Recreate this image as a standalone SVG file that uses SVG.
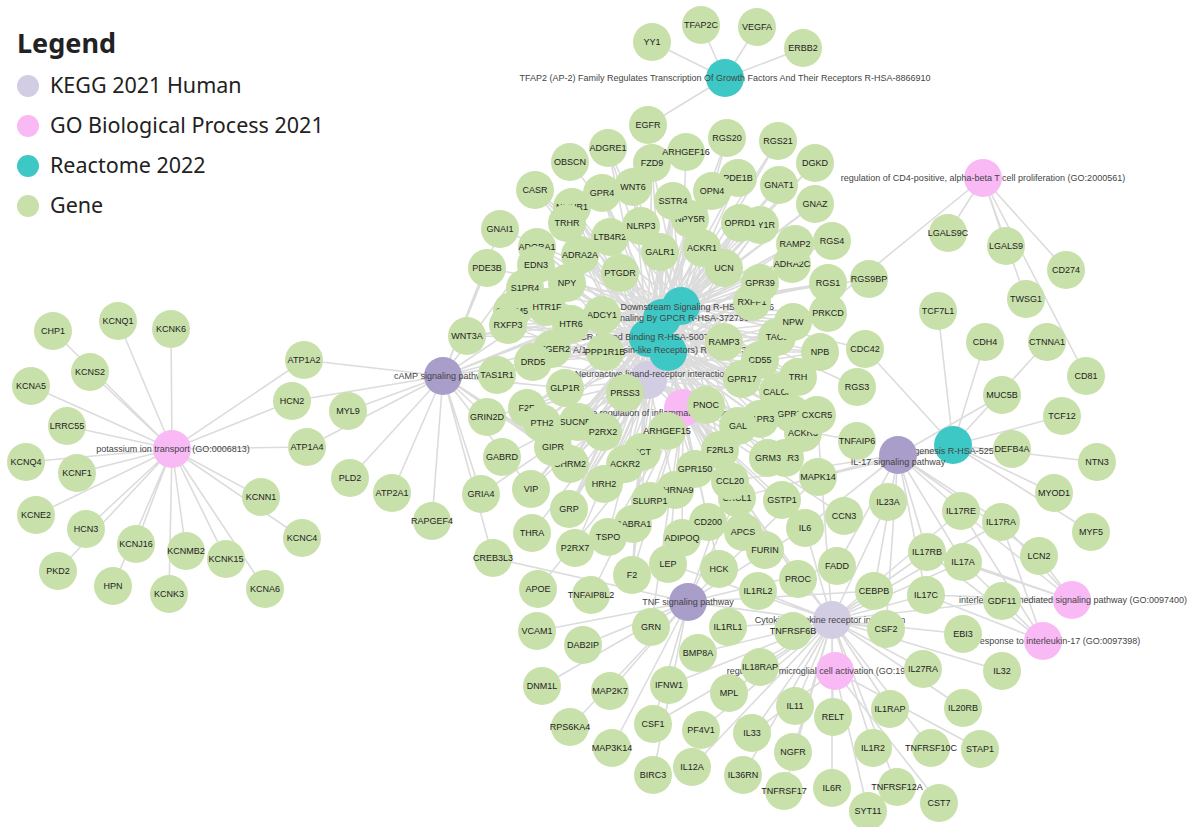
<svg xmlns="http://www.w3.org/2000/svg" width="1190" height="827" viewBox="0 0 1190 827">
<style>
.e{fill:none;stroke:#dcdcdc;stroke-width:1.6}
.g circle{fill:#c8e0aa}
.g text{font-family:"Liberation Sans",Arial,sans-serif;font-size:9px;fill:#222;text-anchor:middle}
.tl text,text.tl{font-family:"Liberation Sans",Arial,sans-serif;font-size:9px;fill:#444;text-anchor:middle}
.kd{fill:#a99dc9}.kl{fill:#d2cde3}.go{fill:#f9b9f5}.re{fill:#3ec8c5}
.lg text{font-family:"Noto Sans","Open Sans",sans-serif;font-size:21.5px;fill:#222}
</style>
<rect width="1190" height="827" fill="#ffffff"/>
<g id="legend" class="lg">
<text x="17" y="53" style="font-size:27px;font-weight:bold">Legend</text>
<circle cx="28" cy="86" r="11" class="kl"/><text x="50" y="93">KEGG 2021 Human</text>
<circle cx="28" cy="126" r="11" class="go"/><text x="50" y="133">GO Biological Process 2021</text>
<circle cx="28" cy="166" r="11" class="re"/><text x="50" y="173">Reactome 2022</text>
<circle cx="28" cy="206" r="11" fill="#c8e0aa"/><text x="50" y="213">Gene</text>
</g>
<g id="connectors">
<path id="e-K" class="e" d="M172 449L53 331M172 449L118 321M172 449L171 329M172 449L90 372M172 449L31 386M172 449L67 426M172 449L26 462M172 449L77 473M172 449L36 515M172 449L86 529M172 449L58 571M172 449L136 544M172 449L113 586M172 449L186 551M172 449L169 594M172 449L226 559M172 449L265 589M172 449L261 497M172 449L302 538M172 449L304 360M172 449L292 401M172 449L307 447"/>
<path id="e-cAMP" class="e" d="M443 376L304 360M443 376L292 401M443 376L348 411M443 376L307 447M443 376L350 478M443 376L392 493M443 376L432 521M443 376L481 494M443 376L487 417M443 376L493 558M443 376L487 268M443 376L537 247M443 376L547 307M443 376L571 324M443 376L602 315M443 376L552 349M443 376L605 352M443 376L533 362M443 376L565 388M443 376L553 447M443 376L570 464M443 376L604 484M443 376L531 489M443 376L500 229"/>
<path id="e-N" class="e" d="M648 380L572 207M648 380L567 223M648 380L673 201M648 380L690 219M648 380L740 223M648 380L760 225M648 380L660 252M648 380L724 268M648 380L792 264M648 380L752 302M648 380L793 322M648 380L777 337M648 380L820 352M648 380L798 377M648 380L778 392M648 380L537 247M648 380L580 255M648 380L567 283M648 380L525 288M648 380L620 273M648 380L547 307M648 380L512 311M648 380L508 325M648 380L571 324M648 380L552 349M648 380L533 362M648 380L565 388M648 380L625 393M648 380L487 417M648 380L527 408M648 380L542 423M648 380L603 432M648 380L502 457M648 380L553 447M648 380L570 464M648 380L604 484M648 380L531 489M648 380L706 405M648 380L738 426M648 380L760 419M648 380L720 450M648 380L642 452M648 380L675 490M648 380L569 509M648 380L532 533M648 380L633 524M648 380L575 548M648 380L481 494M648 380L632 575M648 380L768 458M648 380L785 458M648 380L608 537"/>
<path id="e-R1" class="e" d="M681 306L570 162M681 306L500 229M681 306L686 152M681 306L727 138M681 306L778 141M681 306L815 163M681 306L738 178M681 306L779 185M681 306L815 204M681 306L832 241M681 306L828 283M681 306L869 279M681 306L828 313M681 306L865 349M681 306L857 387M681 306L487 268M681 306L602 315M681 306L667 431M681 306L652 163M681 306L633 187M681 306L535 190M681 306L608 148M681 306L567 283M681 306L740 223M681 306L673 201M681 306L798 377M681 306L817 415M681 306L730 481M681 306L569 509M681 306L570 464M681 306L604 484M681 306L531 489M681 306L565 388M681 306L467 336M681 306L795 244M681 306L724 342M681 306L793 322M681 306L738 426"/>
<path id="e-R2" class="e" d="M662 318L608 148M662 318L535 190M662 318L602 193M662 318L633 187M662 318L572 207M662 318L567 223M662 318L610 237M662 318L652 163M662 318L712 191M662 318L673 201M662 318L690 219M662 318L740 223M662 318L760 225M662 318L660 252M662 318L702 248M662 318L724 268M662 318L795 244M662 318L792 264M662 318L760 283M662 318L752 302M662 318L793 322M662 318L724 342M662 318L777 337M662 318L820 352M662 318L760 360M662 318L742 379M662 318L798 377M662 318L778 392M662 318L817 415M662 318L792 414M662 318L803 433M662 318L760 419M662 318L738 426M662 318L706 405M662 318L720 450M662 318L642 452M662 318L695 469M662 318L730 481M662 318L737 498M662 318L569 509M662 318L537 247M662 318L536 265M662 318L580 255M662 318L567 283M662 318L525 288M662 318L620 273M662 318L547 307M662 318L512 311M662 318L508 325M662 318L571 324M662 318L552 349M662 318L533 362M662 318L497 375M662 318L565 388M662 318L527 408M662 318L542 423M662 318L578 422M662 318L553 447M662 318L570 464M662 318L604 484M662 318L531 489M662 318L467 336M662 318L632 575M662 318L727 138M662 318L778 141M662 318L738 178M662 318L779 185M662 318L815 204M662 318L815 163M662 318L832 241M662 318L828 283M662 318L828 313"/>
<path id="e-R3" class="e" d="M648 338L608 148M648 338L535 190M648 338L602 193M648 338L633 187M648 338L572 207M648 338L567 223M648 338L610 237M648 338L652 163M648 338L712 191M648 338L673 201M648 338L690 219M648 338L740 223M648 338L760 225M648 338L660 252M648 338L702 248M648 338L724 268M648 338L795 244M648 338L792 264M648 338L760 283M648 338L752 302M648 338L793 322M648 338L724 342M648 338L777 337M648 338L820 352M648 338L760 360M648 338L742 379M648 338L798 377M648 338L778 392M648 338L817 415M648 338L792 414M648 338L803 433M648 338L785 458M648 338L768 458M648 338L760 419M648 338L738 426M648 338L706 405M648 338L720 450M648 338L642 452M648 338L625 464M648 338L695 469M648 338L730 481M648 338L737 498M648 338L569 509M648 338L537 247M648 338L536 265M648 338L580 255M648 338L567 283M648 338L525 288M648 338L620 273M648 338L547 307M648 338L512 311M648 338L508 325M648 338L571 324M648 338L552 349M648 338L533 362M648 338L497 375M648 338L565 388M648 338L527 408M648 338L542 423M648 338L578 422M648 338L553 447M648 338L570 464M648 338L604 484M648 338L531 489M648 338L467 336M648 338L632 575"/>
<path id="e-R4" class="e" d="M668 352L602 193M668 352L572 207M668 352L567 223M668 352L610 237M668 352L712 191M668 352L673 201M668 352L690 219M668 352L740 223M668 352L760 225M668 352L660 252M668 352L702 248M668 352L792 264M668 352L760 283M668 352L752 302M668 352L793 322M668 352L777 337M668 352L820 352M668 352L742 379M668 352L798 377M668 352L817 415M668 352L792 414M668 352L803 433M668 352L760 419M668 352L738 426M668 352L706 405M668 352L720 450M668 352L625 464M668 352L695 469M668 352L730 481M668 352L737 498M668 352L569 509M668 352L537 247M668 352L536 265M668 352L580 255M668 352L567 283M668 352L525 288M668 352L620 273M668 352L547 307M668 352L512 311M668 352L508 325M668 352L571 324M668 352L552 349M668 352L533 362M668 352L527 408M668 352L578 422M668 352L570 464M668 352L604 484"/>
<path id="e-INF" class="e" d="M683 408L641 226M683 408L702 248M683 408L625 464M683 408L857 441M683 408L782 500M683 408L743 532M683 408L765 550M683 408L682 538M683 408L708 522M683 408L719 569M683 408L668 564M683 408L632 575M683 408L651 627M683 408L591 595M683 408L538 589M683 408L798 579M683 408L844 516M683 408L805 528M683 408L608 537M683 408L675 490M683 408L650 501M683 408L742 379"/>
<path id="e-TNF" class="e" d="M688 602L805 528M688 602L886 629M688 602L730 481M688 602L874 591M688 602L837 566M688 602L818 477M688 602L653 724M688 602L612 748M688 602L610 691M688 602L653 775M688 602L537 631M688 602L493 558M688 602L542 686M688 602L570 727M688 602L583 645M688 602L737 498"/>
<path id="e-CYT" class="e" d="M832 620L805 528M832 620L886 629M832 620L963 634M832 620L1002 671M832 620L923 669M832 620L963 708M832 620L890 709M832 620L873 748M832 620L931 748M832 620L897 787M832 620L832 788M832 620L833 717M832 620L793 752M832 620L784 791M832 620L795 706M832 620L752 733M832 620L743 775M832 620L692 767M832 620L729 693M832 620L669 685M832 620L653 724M832 620L698 653M832 620L760 667M832 620L728 627M832 620L758 591M832 620L793 631M832 620L1002 601M832 620L963 562M832 620L926 595M832 620L1001 522M832 620L927 552M832 620L961 511M832 620L888 502M832 620L730 481M832 620L817 415M832 620L737 498M832 620L701 730M832 620L668 564"/>
<path id="e-MIC" class="e" d="M835 671L939 803M835 671L980 749M835 671L752 733M835 671L868 811"/>
<path id="e-IL17" class="e" d="M898 455L1002 395M898 455L1012 449M898 455L818 477M898 455L805 528M898 455L730 481M898 455L886 629M898 455L874 591M898 455L837 566M898 455L963 562M898 455L926 595M898 455L1001 522M898 455L927 552M898 455L961 511M898 455L1039 556M898 455L737 498"/>
<path id="e-IL17M" class="e" d="M1072 600L963 562M1072 600L926 595M1072 600L1001 522M1072 600L927 552M1072 600L961 511M1072 600L1039 556"/>
<path id="e-IL17R" class="e" d="M1043 641L963 562M1043 641L926 595M1043 641L1001 522M1043 641L927 552M1043 641L961 511"/>
<path id="e-MYO" class="e" d="M953 445L938 311M953 445L985 342M953 445L1047 342M953 445L1062 416M953 445L1097 462M953 445L1054 493M953 445L1091 532M953 445L865 349M953 445L818 477"/>
<path id="e-CD4" class="e" d="M983 178L948 233M983 178L1006 246M983 178L1066 270M983 178L1026 299M983 178L1086 376M983 178L760 360"/>
<path id="e-TF" class="e" d="M725 78L652 42M725 78L701 25M725 78L757 27M725 78L803 48M725 78L648 125"/>
</g>
<g id="terms">
<g id="t-TFAP2"><circle cx="725" cy="78" r="19" class="re"/></g>
<g id="t-CD4"><circle cx="983" cy="178" r="19" class="go"/></g>
<g id="t-K"><circle cx="172" cy="449" r="19" class="go"/></g>
<g id="t-cAMP"><circle cx="443" cy="376" r="19" class="kd"/></g>
<g id="t-NEURO"><circle cx="648" cy="380" r="19" class="kl"/></g>
<g id="t-INF"><circle cx="683" cy="408" r="19" class="go"/></g>
<g id="t-R4"><circle cx="668" cy="352" r="19" class="re"/></g>
<g id="t-R3"><circle cx="648" cy="338" r="19" class="re"/></g>
<g id="t-R2"><circle cx="662" cy="318" r="19" class="re"/></g>
<g id="t-R1"><circle cx="681" cy="306" r="19" class="re"/></g>
<g id="t-MYO"><circle cx="953" cy="445" r="19" class="re"/></g>
<g id="t-IL17M"><circle cx="1072" cy="600" r="19" class="go"/></g>
<g id="t-IL17R"><circle cx="1043" cy="641" r="19" class="go"/></g>
<g id="t-CYT"><circle cx="832" cy="620" r="19" class="kl"/></g>
<g id="t-MIC"><circle cx="835" cy="671" r="19" class="go"/></g>
<g id="t-TNF"><circle cx="688" cy="602" r="19" class="kd"/></g>
</g>
<g id="term-labels" class="tl">
<text x="725" y="81">TFAP2 (AP-2) Family Regulates Transcription Of Growth Factors And Their Receptors R-HSA-8866910</text>
<text x="983" y="181">regulation of CD4-positive, alpha-beta T cell proliferation (GO:2000561)</text>
<text x="173" y="452">potassium ion transport (GO:0006813)</text>
<text x="443" y="379">cAMP signaling pathway</text>
<text x="652" y="377">Neuroactive ligand-receptor interaction</text>
<text x="683" y="416">negative regulation of inflammatory response (GO:0050728)</text>
<text x="683" y="310">GPCR Downstream Signaling R-HSA-388396</text>
<text x="678" y="321">Signaling By GPCR R-HSA-372790</text>
<text x="643" y="340">GPCR Ligand Binding R-HSA-500792</text>
<text x="655" y="353">Class A/1 (Rhodopsin-like Receptors) R-HSA-373076</text>
<text x="953" y="454">Myogenesis R-HSA-525793</text>
<text x="1073" y="603">interleukin-17-mediated signaling pathway (GO:0097400)</text>
<text x="1043" y="644">cellular response to interleukin-17 (GO:0097398)</text>
<text x="830" y="623">Cytokine-cytokine receptor interaction</text>
<text x="830" y="674">regulation of microglial cell activation (GO:1903978)</text>
<text x="688" y="605">TNF signaling pathway</text>
</g>
<g id="t-IL17"><circle cx="898" cy="455" r="19" class="kd"/><text class="tl" x="898" y="465">IL-17 signaling pathway</text></g>
<g id="genes" class="g">
<g id="g-GPR4"><circle cx="602" cy="193" r="19"/><text x="602" y="196">GPR4</text></g>
<g id="g-NMUR1"><circle cx="572" cy="207" r="19"/><text x="572" y="210">NMUR1</text></g>
<g id="g-NPY1R"><circle cx="760" cy="225" r="19"/><text x="760" y="228">NPY1R</text></g>
<g id="g-NPY5R"><circle cx="690" cy="219" r="19"/><text x="690" y="222">NPY5R</text></g>
<g id="g-TAC1"><circle cx="777" cy="337" r="19"/><text x="777" y="340">TAC1</text></g>
<g id="g-RXFP1"><circle cx="752" cy="302" r="19"/><text x="752" y="305">RXFP1</text></g>
<g id="g-CALCA"><circle cx="778" cy="392" r="19"/><text x="778" y="395">CALCA</text></g>
<g id="g-GPR75"><circle cx="792" cy="414" r="19"/><text x="792" y="417">GPR75</text></g>
<g id="g-ACKR3"><circle cx="803" cy="433" r="19"/><text x="803" y="436">ACKR3</text></g>
<g id="g-LPAR3"><circle cx="785" cy="458" r="19"/><text x="785" y="461">LPAR3</text></g>
<g id="g-CHRM5"><circle cx="512" cy="311" r="19"/><text x="512" y="314">CHRM5</text></g>
<g id="g-PTGER2"><circle cx="552" cy="349" r="19"/><text x="552" y="352">PTGER2</text></g>
<g id="g-F2R"><circle cx="527" cy="408" r="19"/><text x="527" y="411">F2R</text></g>
<g id="g-SUCNR1"><circle cx="578" cy="422" r="19"/><text x="578" y="425">SUCNR1</text></g>
<g id="g-CHRM2"><circle cx="570" cy="464" r="19"/><text x="570" y="467">CHRM2</text></g>
<g id="g-SCT"><circle cx="642" cy="452" r="19"/><text x="642" y="455">SCT</text></g>
<g id="g-CHRNA9"><circle cx="675" cy="490" r="19"/><text x="675" y="493">CHRNA9</text></g>
<g id="g-GABRA1"><circle cx="633" cy="524" r="19"/><text x="633" y="527">GABRA1</text></g>
<g id="g-CXCL1"><circle cx="737" cy="498" r="19"/><text x="737" y="501">CXCL1</text></g>
<g id="g-ADORA1"><circle cx="537" cy="247" r="19"/><text x="537" y="250">ADORA1</text></g>
<g id="g-YY1"><circle cx="652" cy="42" r="19"/><text x="652" y="45">YY1</text></g>
<g id="g-TFAP2C"><circle cx="701" cy="25" r="19"/><text x="701" y="28">TFAP2C</text></g>
<g id="g-VEGFA"><circle cx="757" cy="27" r="19"/><text x="757" y="30">VEGFA</text></g>
<g id="g-ERBB2"><circle cx="803" cy="48" r="19"/><text x="803" y="51">ERBB2</text></g>
<g id="g-EGFR"><circle cx="648" cy="125" r="19"/><text x="648" y="128">EGFR</text></g>
<g id="g-OBSCN"><circle cx="570" cy="162" r="19"/><text x="570" y="165">OBSCN</text></g>
<g id="g-ADGRE1"><circle cx="608" cy="148" r="19"/><text x="608" y="151">ADGRE1</text></g>
<g id="g-CASR"><circle cx="535" cy="190" r="19"/><text x="535" y="193">CASR</text></g>
<g id="g-WNT6"><circle cx="633" cy="187" r="19"/><text x="633" y="190">WNT6</text></g>
<g id="g-TRHR"><circle cx="567" cy="223" r="19"/><text x="567" y="226">TRHR</text></g>
<g id="g-GNAI1"><circle cx="500" cy="229" r="19"/><text x="500" y="232">GNAI1</text></g>
<g id="g-LTB4R2"><circle cx="610" cy="237" r="19"/><text x="610" y="240">LTB4R2</text></g>
<g id="g-NLRP3"><circle cx="641" cy="226" r="19"/><text x="641" y="229">NLRP3</text></g>
<g id="g-FZD9"><circle cx="652" cy="163" r="19"/><text x="652" y="166">FZD9</text></g>
<g id="g-ARHGEF16"><circle cx="686" cy="152" r="19"/><text x="686" y="155">ARHGEF16</text></g>
<g id="g-RGS20"><circle cx="727" cy="138" r="19"/><text x="727" y="141">RGS20</text></g>
<g id="g-RGS21"><circle cx="778" cy="141" r="19"/><text x="778" y="144">RGS21</text></g>
<g id="g-DGKD"><circle cx="815" cy="163" r="19"/><text x="815" y="166">DGKD</text></g>
<g id="g-PDE1B"><circle cx="738" cy="178" r="19"/><text x="738" y="181">PDE1B</text></g>
<g id="g-GNAT1"><circle cx="779" cy="185" r="19"/><text x="779" y="188">GNAT1</text></g>
<g id="g-GNAZ"><circle cx="815" cy="204" r="19"/><text x="815" y="207">GNAZ</text></g>
<g id="g-OPN4"><circle cx="712" cy="191" r="19"/><text x="712" y="194">OPN4</text></g>
<g id="g-SSTR4"><circle cx="673" cy="201" r="19"/><text x="673" y="204">SSTR4</text></g>
<g id="g-OPRD1"><circle cx="740" cy="223" r="19"/><text x="740" y="226">OPRD1</text></g>
<g id="g-GALR1"><circle cx="660" cy="252" r="19"/><text x="660" y="255">GALR1</text></g>
<g id="g-ACKR1"><circle cx="702" cy="248" r="19"/><text x="702" y="251">ACKR1</text></g>
<g id="g-UCN"><circle cx="724" cy="268" r="19"/><text x="724" y="271">UCN</text></g>
<g id="g-ADRA2C"><circle cx="792" cy="264" r="19"/><text x="792" y="267">ADRA2C</text></g>
<g id="g-RAMP2"><circle cx="795" cy="244" r="19"/><text x="795" y="247">RAMP2</text></g>
<g id="g-RGS4"><circle cx="832" cy="241" r="19"/><text x="832" y="244">RGS4</text></g>
<g id="g-GPR39"><circle cx="760" cy="283" r="19"/><text x="760" y="286">GPR39</text></g>
<g id="g-RGS1"><circle cx="828" cy="283" r="19"/><text x="828" y="286">RGS1</text></g>
<g id="g-RGS9BP"><circle cx="869" cy="279" r="19"/><text x="869" y="282">RGS9BP</text></g>
<g id="g-PRKCD"><circle cx="828" cy="313" r="19"/><text x="828" y="316">PRKCD</text></g>
<g id="g-NPW"><circle cx="793" cy="322" r="19"/><text x="793" y="325">NPW</text></g>
<g id="g-RAMP3"><circle cx="724" cy="342" r="19"/><text x="724" y="345">RAMP3</text></g>
<g id="g-NPB"><circle cx="820" cy="352" r="19"/><text x="820" y="355">NPB</text></g>
<g id="g-CDC42"><circle cx="865" cy="349" r="19"/><text x="865" y="352">CDC42</text></g>
<g id="g-CD55"><circle cx="760" cy="360" r="19"/><text x="760" y="363">CD55</text></g>
<g id="g-GPR17"><circle cx="742" cy="379" r="19"/><text x="742" y="382">GPR17</text></g>
<g id="g-TRH"><circle cx="798" cy="377" r="19"/><text x="798" y="380">TRH</text></g>
<g id="g-RGS3"><circle cx="857" cy="387" r="19"/><text x="857" y="390">RGS3</text></g>
<g id="g-CXCR5"><circle cx="817" cy="415" r="19"/><text x="817" y="418">CXCR5</text></g>
<g id="g-TNFAIP6"><circle cx="857" cy="441" r="19"/><text x="857" y="444">TNFAIP6</text></g>
<g id="g-MAPK14"><circle cx="818" cy="477" r="19"/><text x="818" y="480">MAPK14</text></g>
<g id="g-GRM3"><circle cx="768" cy="458" r="19"/><text x="768" y="461">GRM3</text></g>
<g id="g-S1PR3"><circle cx="760" cy="419" r="19"/><text x="760" y="422">S1PR3</text></g>
<g id="g-GAL"><circle cx="738" cy="426" r="19"/><text x="738" y="429">GAL</text></g>
<g id="g-PNOC"><circle cx="706" cy="405" r="19"/><text x="706" y="408">PNOC</text></g>
<g id="g-F2RL3"><circle cx="720" cy="450" r="19"/><text x="720" y="453">F2RL3</text></g>
<g id="g-ARHGEF15"><circle cx="667" cy="431" r="19"/><text x="667" y="434">ARHGEF15</text></g>
<g id="g-ACKR2"><circle cx="625" cy="464" r="19"/><text x="625" y="467">ACKR2</text></g>
<g id="g-GPR150"><circle cx="695" cy="469" r="19"/><text x="695" y="472">GPR150</text></g>
<g id="g-CCL20"><circle cx="730" cy="481" r="19"/><text x="730" y="484">CCL20</text></g>
<g id="g-GSTP1"><circle cx="782" cy="500" r="19"/><text x="782" y="503">GSTP1</text></g>
<g id="g-SLURP1"><circle cx="650" cy="501" r="19"/><text x="650" y="504">SLURP1</text></g>
<g id="g-GRP"><circle cx="569" cy="509" r="19"/><text x="569" y="512">GRP</text></g>
<g id="g-THRA"><circle cx="532" cy="533" r="19"/><text x="532" y="536">THRA</text></g>
<g id="g-TSPO"><circle cx="608" cy="537" r="19"/><text x="608" y="540">TSPO</text></g>
<g id="g-P2RX7"><circle cx="575" cy="548" r="19"/><text x="575" y="551">P2RX7</text></g>
<g id="g-CD200"><circle cx="708" cy="522" r="19"/><text x="708" y="525">CD200</text></g>
<g id="g-ADIPOQ"><circle cx="682" cy="538" r="19"/><text x="682" y="541">ADIPOQ</text></g>
<g id="g-APCS"><circle cx="743" cy="532" r="19"/><text x="743" y="535">APCS</text></g>
<g id="g-FURIN"><circle cx="765" cy="550" r="19"/><text x="765" y="553">FURIN</text></g>
<g id="g-IL6"><circle cx="805" cy="528" r="19"/><text x="805" y="531">IL6</text></g>
<g id="g-LEP"><circle cx="668" cy="564" r="19"/><text x="668" y="567">LEP</text></g>
<g id="g-HCK"><circle cx="719" cy="569" r="19"/><text x="719" y="572">HCK</text></g>
<g id="g-F2"><circle cx="632" cy="575" r="19"/><text x="632" y="578">F2</text></g>
<g id="g-CREB3L3"><circle cx="493" cy="558" r="19"/><text x="493" y="561">CREB3L3</text></g>
<g id="g-APOE"><circle cx="538" cy="589" r="19"/><text x="538" y="592">APOE</text></g>
<g id="g-TNFAIP8L2"><circle cx="591" cy="595" r="19"/><text x="591" y="598">TNFAIP8L2</text></g>
<g id="g-PROC"><circle cx="798" cy="579" r="19"/><text x="798" y="582">PROC</text></g>
<g id="g-IL1RL2"><circle cx="758" cy="591" r="19"/><text x="758" y="594">IL1RL2</text></g>
<g id="g-GRN"><circle cx="651" cy="627" r="19"/><text x="651" y="630">GRN</text></g>
<g id="g-IL1RL1"><circle cx="728" cy="627" r="19"/><text x="728" y="630">IL1RL1</text></g>
<g id="g-TNFRSF6B"><circle cx="793" cy="631" r="19"/><text x="793" y="634">TNFRSF6B</text></g>
<g id="g-VCAM1"><circle cx="537" cy="631" r="19"/><text x="537" y="634">VCAM1</text></g>
<g id="g-DAB2IP"><circle cx="583" cy="645" r="19"/><text x="583" y="648">DAB2IP</text></g>
<g id="g-BMP8A"><circle cx="698" cy="653" r="19"/><text x="698" y="656">BMP8A</text></g>
<g id="g-IL18RAP"><circle cx="760" cy="667" r="19"/><text x="760" y="670">IL18RAP</text></g>
<g id="g-DNM1L"><circle cx="542" cy="686" r="19"/><text x="542" y="689">DNM1L</text></g>
<g id="g-MAP2K7"><circle cx="610" cy="691" r="19"/><text x="610" y="694">MAP2K7</text></g>
<g id="g-IFNW1"><circle cx="669" cy="685" r="19"/><text x="669" y="688">IFNW1</text></g>
<g id="g-MPL"><circle cx="729" cy="693" r="19"/><text x="729" y="696">MPL</text></g>
<g id="g-IL11"><circle cx="795" cy="706" r="19"/><text x="795" y="709">IL11</text></g>
<g id="g-RPS6KA4"><circle cx="570" cy="727" r="19"/><text x="570" y="730">RPS6KA4</text></g>
<g id="g-CSF1"><circle cx="653" cy="724" r="19"/><text x="653" y="727">CSF1</text></g>
<g id="g-PF4V1"><circle cx="701" cy="730" r="19"/><text x="701" y="733">PF4V1</text></g>
<g id="g-IL33"><circle cx="752" cy="733" r="19"/><text x="752" y="736">IL33</text></g>
<g id="g-MAP3K14"><circle cx="612" cy="748" r="19"/><text x="612" y="751">MAP3K14</text></g>
<g id="g-NGFR"><circle cx="793" cy="752" r="19"/><text x="793" y="755">NGFR</text></g>
<g id="g-BIRC3"><circle cx="653" cy="775" r="19"/><text x="653" y="778">BIRC3</text></g>
<g id="g-IL12A"><circle cx="692" cy="767" r="19"/><text x="692" y="770">IL12A</text></g>
<g id="g-IL36RN"><circle cx="743" cy="775" r="19"/><text x="743" y="778">IL36RN</text></g>
<g id="g-TNFRSF17"><circle cx="784" cy="791" r="19"/><text x="784" y="794">TNFRSF17</text></g>
<g id="g-RELT"><circle cx="833" cy="717" r="19"/><text x="833" y="720">RELT</text></g>
<g id="g-IL1RAP"><circle cx="890" cy="709" r="19"/><text x="890" y="712">IL1RAP</text></g>
<g id="g-IL1R2"><circle cx="873" cy="748" r="19"/><text x="873" y="751">IL1R2</text></g>
<g id="g-TNFRSF10C"><circle cx="931" cy="748" r="19"/><text x="931" y="751">TNFRSF10C</text></g>
<g id="g-STAP1"><circle cx="980" cy="749" r="19"/><text x="980" y="752">STAP1</text></g>
<g id="g-IL6R"><circle cx="832" cy="788" r="19"/><text x="832" y="791">IL6R</text></g>
<g id="g-TNFRSF12A"><circle cx="897" cy="787" r="19"/><text x="897" y="790">TNFRSF12A</text></g>
<g id="g-SYT11"><circle cx="868" cy="811" r="19"/><text x="868" y="814">SYT11</text></g>
<g id="g-CST7"><circle cx="939" cy="803" r="19"/><text x="939" y="806">CST7</text></g>
<g id="g-CSF2"><circle cx="886" cy="629" r="19"/><text x="886" y="632">CSF2</text></g>
<g id="g-EBI3"><circle cx="963" cy="634" r="19"/><text x="963" y="637">EBI3</text></g>
<g id="g-IL27RA"><circle cx="923" cy="669" r="19"/><text x="923" y="672">IL27RA</text></g>
<g id="g-IL32"><circle cx="1002" cy="671" r="19"/><text x="1002" y="674">IL32</text></g>
<g id="g-IL20RB"><circle cx="963" cy="708" r="19"/><text x="963" y="711">IL20RB</text></g>
<g id="g-GDF11"><circle cx="1002" cy="601" r="19"/><text x="1002" y="604">GDF11</text></g>
<g id="g-IL23A"><circle cx="888" cy="502" r="19"/><text x="888" y="505">IL23A</text></g>
<g id="g-CCN3"><circle cx="844" cy="516" r="19"/><text x="844" y="519">CCN3</text></g>
<g id="g-IL17RE"><circle cx="961" cy="511" r="19"/><text x="961" y="514">IL17RE</text></g>
<g id="g-IL17RA"><circle cx="1001" cy="522" r="19"/><text x="1001" y="525">IL17RA</text></g>
<g id="g-IL17RB"><circle cx="927" cy="552" r="19"/><text x="927" y="555">IL17RB</text></g>
<g id="g-IL17A"><circle cx="963" cy="562" r="19"/><text x="963" y="565">IL17A</text></g>
<g id="g-LCN2"><circle cx="1039" cy="556" r="19"/><text x="1039" y="559">LCN2</text></g>
<g id="g-FADD"><circle cx="837" cy="566" r="19"/><text x="837" y="569">FADD</text></g>
<g id="g-CEBPB"><circle cx="874" cy="591" r="19"/><text x="874" y="594">CEBPB</text></g>
<g id="g-IL17C"><circle cx="926" cy="595" r="19"/><text x="926" y="598">IL17C</text></g>
<g id="g-MUC5B"><circle cx="1002" cy="395" r="19"/><text x="1002" y="398">MUC5B</text></g>
<g id="g-CD81"><circle cx="1086" cy="376" r="19"/><text x="1086" y="379">CD81</text></g>
<g id="g-TCF12"><circle cx="1062" cy="416" r="19"/><text x="1062" y="419">TCF12</text></g>
<g id="g-DEFB4A"><circle cx="1012" cy="449" r="19"/><text x="1012" y="452">DEFB4A</text></g>
<g id="g-NTN3"><circle cx="1097" cy="462" r="19"/><text x="1097" y="465">NTN3</text></g>
<g id="g-MYOD1"><circle cx="1054" cy="493" r="19"/><text x="1054" y="496">MYOD1</text></g>
<g id="g-MYF5"><circle cx="1091" cy="532" r="19"/><text x="1091" y="535">MYF5</text></g>
<g id="g-LGALS9C"><circle cx="948" cy="233" r="19"/><text x="948" y="236">LGALS9C</text></g>
<g id="g-LGALS9"><circle cx="1006" cy="246" r="19"/><text x="1006" y="249">LGALS9</text></g>
<g id="g-CD274"><circle cx="1066" cy="270" r="19"/><text x="1066" y="273">CD274</text></g>
<g id="g-TWSG1"><circle cx="1026" cy="299" r="19"/><text x="1026" y="302">TWSG1</text></g>
<g id="g-TCF7L1"><circle cx="938" cy="311" r="19"/><text x="938" y="314">TCF7L1</text></g>
<g id="g-CDH4"><circle cx="985" cy="342" r="19"/><text x="985" y="345">CDH4</text></g>
<g id="g-CTNNA1"><circle cx="1047" cy="342" r="19"/><text x="1047" y="345">CTNNA1</text></g>
<g id="g-CHP1"><circle cx="53" cy="331" r="19"/><text x="53" y="334">CHP1</text></g>
<g id="g-KCNQ1"><circle cx="118" cy="321" r="19"/><text x="118" y="324">KCNQ1</text></g>
<g id="g-KCNK6"><circle cx="171" cy="329" r="19"/><text x="171" y="332">KCNK6</text></g>
<g id="g-KCNS2"><circle cx="90" cy="372" r="19"/><text x="90" y="375">KCNS2</text></g>
<g id="g-KCNA5"><circle cx="31" cy="386" r="19"/><text x="31" y="389">KCNA5</text></g>
<g id="g-LRRC55"><circle cx="67" cy="426" r="19"/><text x="67" y="429">LRRC55</text></g>
<g id="g-KCNQ4"><circle cx="26" cy="462" r="19"/><text x="26" y="465">KCNQ4</text></g>
<g id="g-KCNF1"><circle cx="77" cy="473" r="19"/><text x="77" y="476">KCNF1</text></g>
<g id="g-KCNE2"><circle cx="36" cy="515" r="19"/><text x="36" y="518">KCNE2</text></g>
<g id="g-HCN3"><circle cx="86" cy="529" r="19"/><text x="86" y="532">HCN3</text></g>
<g id="g-PKD2"><circle cx="58" cy="571" r="19"/><text x="58" y="574">PKD2</text></g>
<g id="g-KCNJ16"><circle cx="136" cy="544" r="19"/><text x="136" y="547">KCNJ16</text></g>
<g id="g-HPN"><circle cx="113" cy="586" r="19"/><text x="113" y="589">HPN</text></g>
<g id="g-KCNMB2"><circle cx="186" cy="551" r="19"/><text x="186" y="554">KCNMB2</text></g>
<g id="g-KCNK3"><circle cx="169" cy="594" r="19"/><text x="169" y="597">KCNK3</text></g>
<g id="g-KCNK15"><circle cx="226" cy="559" r="19"/><text x="226" y="562">KCNK15</text></g>
<g id="g-KCNA6"><circle cx="265" cy="589" r="19"/><text x="265" y="592">KCNA6</text></g>
<g id="g-KCNN1"><circle cx="261" cy="497" r="19"/><text x="261" y="500">KCNN1</text></g>
<g id="g-KCNC4"><circle cx="302" cy="538" r="19"/><text x="302" y="541">KCNC4</text></g>
<g id="g-ATP1A2"><circle cx="304" cy="360" r="19"/><text x="304" y="363">ATP1A2</text></g>
<g id="g-HCN2"><circle cx="292" cy="401" r="19"/><text x="292" y="404">HCN2</text></g>
<g id="g-MYL9"><circle cx="348" cy="411" r="19"/><text x="348" y="414">MYL9</text></g>
<g id="g-ATP1A4"><circle cx="307" cy="447" r="19"/><text x="307" y="450">ATP1A4</text></g>
<g id="g-PLD2"><circle cx="350" cy="478" r="19"/><text x="350" y="481">PLD2</text></g>
<g id="g-ATP2A1"><circle cx="392" cy="493" r="19"/><text x="392" y="496">ATP2A1</text></g>
<g id="g-RAPGEF4"><circle cx="432" cy="521" r="19"/><text x="432" y="524">RAPGEF4</text></g>
<g id="g-WNT3A"><circle cx="467" cy="336" r="19"/><text x="467" y="339">WNT3A</text></g>
<g id="g-GRIA4"><circle cx="481" cy="494" r="19"/><text x="481" y="497">GRIA4</text></g>
<g id="g-PDE3B"><circle cx="487" cy="268" r="19"/><text x="487" y="271">PDE3B</text></g>
<g id="g-EDN3"><circle cx="536" cy="265" r="19"/><text x="536" y="268">EDN3</text></g>
<g id="g-ADRA2A"><circle cx="580" cy="255" r="19"/><text x="580" y="258">ADRA2A</text></g>
<g id="g-PTGDR"><circle cx="620" cy="273" r="19"/><text x="620" y="276">PTGDR</text></g>
<g id="g-S1PR4"><circle cx="525" cy="288" r="19"/><text x="525" y="291">S1PR4</text></g>
<g id="g-NPY"><circle cx="567" cy="283" r="19"/><text x="567" y="286">NPY</text></g>
<g id="g-RXFP3"><circle cx="508" cy="325" r="19"/><text x="508" y="328">RXFP3</text></g>
<g id="g-HTR1F"><circle cx="547" cy="307" r="19"/><text x="547" y="310">HTR1F</text></g>
<g id="g-ADCY1"><circle cx="602" cy="315" r="19"/><text x="602" y="318">ADCY1</text></g>
<g id="g-HTR6"><circle cx="571" cy="324" r="19"/><text x="571" y="327">HTR6</text></g>
<g id="g-PPP1R1B"><circle cx="605" cy="352" r="19"/><text x="605" y="355">PPP1R1B</text></g>
<g id="g-DRD5"><circle cx="533" cy="362" r="19"/><text x="533" y="365">DRD5</text></g>
<g id="g-TAS1R1"><circle cx="497" cy="375" r="19"/><text x="497" y="378">TAS1R1</text></g>
<g id="g-GLP1R"><circle cx="565" cy="388" r="19"/><text x="565" y="391">GLP1R</text></g>
<g id="g-PRSS3"><circle cx="625" cy="393" r="19"/><text x="625" y="396">PRSS3</text></g>
<g id="g-GRIN2D"><circle cx="487" cy="417" r="19"/><text x="487" y="420">GRIN2D</text></g>
<g id="g-PTH2"><circle cx="542" cy="423" r="19"/><text x="542" y="426">PTH2</text></g>
<g id="g-P2RX2"><circle cx="603" cy="432" r="19"/><text x="603" y="435">P2RX2</text></g>
<g id="g-GABRD"><circle cx="502" cy="457" r="19"/><text x="502" y="460">GABRD</text></g>
<g id="g-GIPR"><circle cx="553" cy="447" r="19"/><text x="553" y="450">GIPR</text></g>
<g id="g-HRH2"><circle cx="604" cy="484" r="19"/><text x="604" y="487">HRH2</text></g>
<g id="g-VIP"><circle cx="531" cy="489" r="19"/><text x="531" y="492">VIP</text></g>
</g>
</svg>
